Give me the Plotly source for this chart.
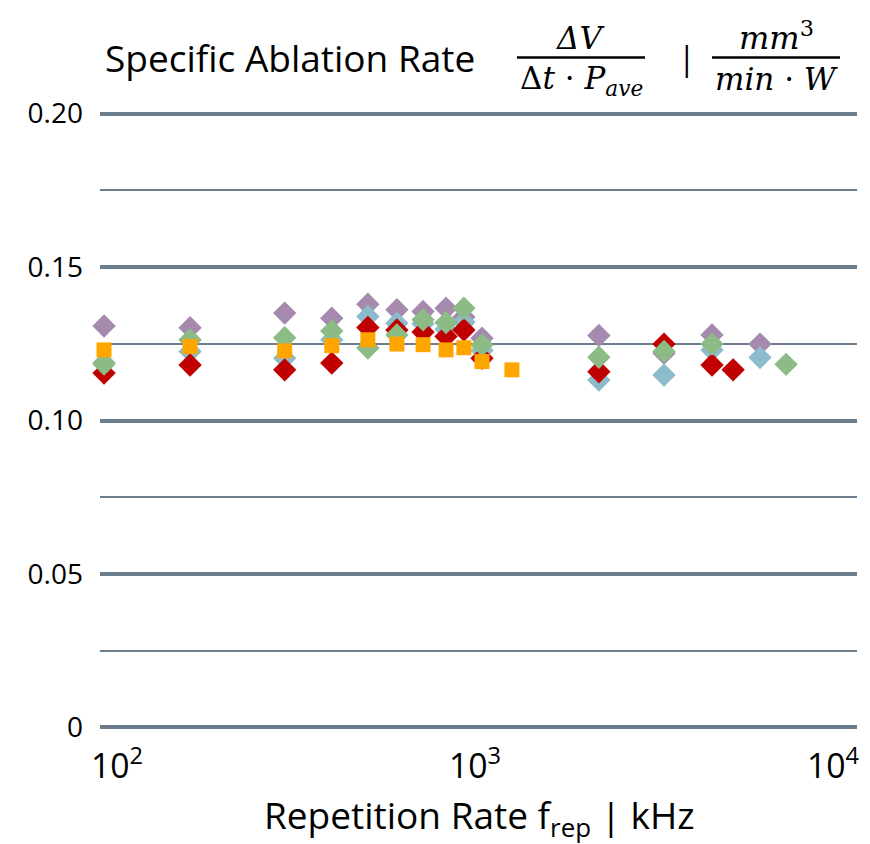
import plotly.graph_objects as go

# repetition rates (kHz), one list per series
x_purple = [92, 160, 294, 398, 502, 605, 716, 830, 931, 1046, 2218, 3373, 4592, 6253]
y_purple = [0.1308, 0.1302, 0.1350, 0.1333, 0.1379, 0.1361, 0.1355, 0.1366, 0.1337, 0.1268, 0.1277, 0.1219, 0.1279, 0.1249]

x_blue = [92, 160, 294, 398, 502, 605, 716, 830, 931, 1046, 2218, 3373, 4592, 6253]
y_blue = [0.1188, 0.1225, 0.1203, 0.1263, 0.1339, 0.1317, 0.1315, 0.1297, 0.1320, 0.1228, 0.1132, 0.1148, 0.1230, 0.1205]

x_red = [92, 160, 294, 398, 502, 605, 716, 830, 931, 1046, 2218, 3373, 4592, 5260]
y_red = [0.1155, 0.1181, 0.1165, 0.1187, 0.1303, 0.1295, 0.1288, 0.1274, 0.1295, 0.1203, 0.1159, 0.1249, 0.1181, 0.1165]

x_green = [92, 160, 294, 398, 502, 605, 716, 830, 931, 1046, 2218, 3373, 4592, 7395]
y_green = [0.1184, 0.1263, 0.1270, 0.1292, 0.1236, 0.1279, 0.1328, 0.1319, 0.1366, 0.1246, 0.1206, 0.1225, 0.1249, 0.1183]

x_orange = [92, 160, 294, 398, 502, 605, 716, 830, 931, 1046, 1268]
y_orange = [0.1230, 0.1241, 0.1227, 0.1244, 0.1263, 0.1249, 0.1247, 0.1230, 0.1237, 0.1192, 0.1165]

y_ticks = [0, 0.05, 0.10, 0.15, 0.20]
y_tick_text = ["0", "0.05", "0.10", "0.15", "0.20"]

# page body has an 8px margin, so the figure is laid out in page pixels minus 8
OFF = 8
W, H = 870 - OFF, 844 - OFF
L, R, T, B = 100, 857, 109.4, 731.6   # plot area in page pixels
GRID = "#6B7C8C"
FONT = "Open Sans"
MATH = "DejaVu Serif"


def px(x):
    return (x - L) / (R - L)


def py(y):
    return (B - y) / (B - T)


fig = go.Figure()

series = [
    (x_purple, y_purple, "#A58AAE", "diamond", 18),
    (x_blue, y_blue, "#8CBCCB", "diamond", 18),
    (x_red, y_red, "#C00000", "diamond", 18),
    (x_green, y_green, "#8CBB86", "diamond", 18),
    (x_orange, y_orange, "#FFA500", "square", 15),
]
for xs, ys, col, sym, size in series:
    fig.add_trace(go.Scatter(x=xs, y=ys, mode="markers", cliponaxis=False,
                             marker=dict(symbol=sym, size=size, color=col, line=dict(width=0)),
                             showlegend=False))

# title: text + two hand-built fractions
anns = [
    dict(x=px(103), y=py(58), text="Specific Ablation Rate", xanchor="left",
         font=dict(family=FONT, size=37, color="black")),
    dict(x=px(580), y=py(38), text="<i>ΔV</i>", font=dict(family=MATH, size=31, color="black")),
    dict(x=px(581), y=py(81), text="Δ<i>t</i> · <i>P<sub>ave</sub></i>", font=dict(family=MATH, size=31, color="black")),
    dict(x=px(687), y=py(58), text="|", font=dict(family=FONT, size=32, color="black")),
    dict(x=px(776), y=py(36), text="<i>mm</i><sup>3</sup>", font=dict(family=MATH, size=32, color="black")),
    dict(x=px(776), y=py(79), text="<i>min</i> · <i>W</i>", font=dict(family=MATH, size=31, color="black")),
    dict(x=px(479), y=py(816), text="Repetition Rate f<sub>rep</sub> | kHz",
         font=dict(family=FONT, size=37, color="black")),
]
for a in anns:
    a.setdefault("xanchor", "center")
    fig.add_annotation(xref="paper", yref="paper", showarrow=False, yanchor="middle", **a)

for x0, x1 in [(517, 645), (712, 840)]:
    fig.add_shape(type="line", xref="paper", yref="paper", x0=px(x0), x1=px(x1),
                  y0=py(58), y1=py(58), line=dict(color="black", width=2.5))

fig.update_layout(
    width=W, height=H,
    margin=dict(l=L - OFF, r=870 - R, t=T - OFF, b=844 - B, autoexpand=False),
    plot_bgcolor="white", paper_bgcolor="white",
    font=dict(family=FONT, size=28, color="black"),
)
fig.update_xaxes(
    type="log", range=[1.9525, 4.067], dtick=1, exponentformat="power",
    showgrid=False, zeroline=False, showline=False, ticks="", automargin=False,
    ticklabelstandoff=11, tickfont=dict(size=27),
)
fig.update_yaxes(
    range=[-0.0015, 0.2015], tickvals=y_ticks, ticktext=y_tick_text,
    showgrid=True, gridcolor=GRID, gridwidth=4, zeroline=False, showline=False, ticks="",
    minor=dict(dtick=0.025, tick0=0, showgrid=True, gridcolor=GRID, gridwidth=2),
    ticklabelstandoff=16, automargin=False,
)

fig.write_html("out.html")
